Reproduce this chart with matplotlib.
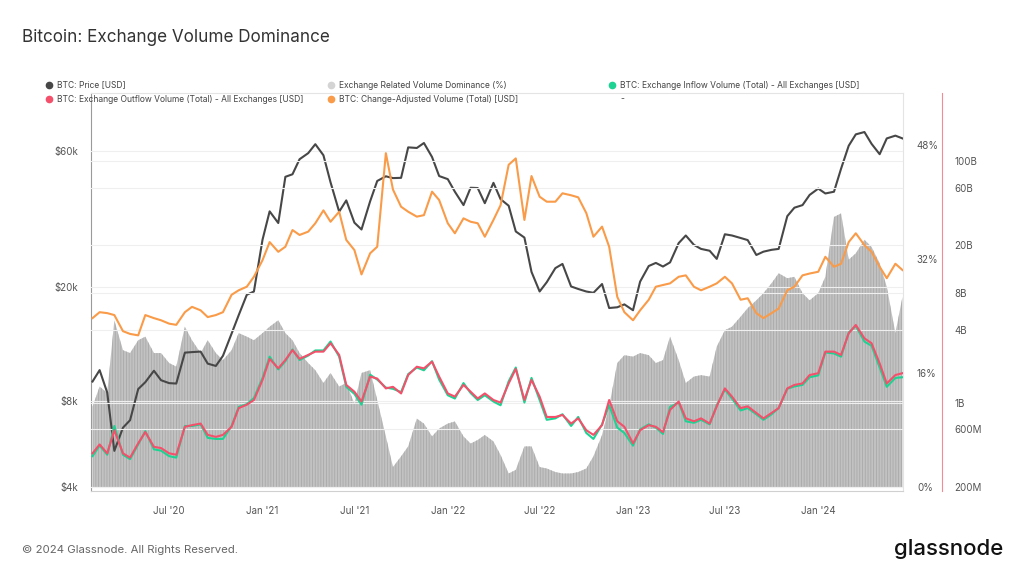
import matplotlib.pyplot as plt
import matplotlib.dates as mdates
from matplotlib.lines import Line2D
from matplotlib.ticker import FixedLocator, FixedFormatter, NullLocator
import pandas as pd

plt.rcParams['font.family'] = ['Inter', 'DejaVu Sans']
plt.rcParams['hatch.linewidth'] = 0.6

# semi-monthly samples (1st and 15th), Feb 2020 - Jun 2024
dates = pd.date_range('2020-02-01', '2024-06-15', freq='SMS')

# BTC price, USD
price = [
    9350, 10250, 8550, 5350, 6450, 6850, 8800, 9300, 10200, 9450, 9230, 9200,
    11800, 11850, 11900, 10800, 10600, 11500, 13750, 15950, 18800, 19300,
    29300, 36800, 33500, 48600, 49600, 56000, 58800, 63200, 57800, 46500, 36700, 40200,
    33600, 31800, 39900, 47000, 48800, 48100, 48200, 61600, 61300, 63800, 57000, 48900,
    47700, 43100, 38700, 44500, 44400, 39300, 46300, 40600, 38500, 31300, 29800, 22600,
    19300, 20800, 23300, 24100, 20100, 19700, 19300, 19100, 20500, 16900, 17000, 17400,
    16600, 20900, 23700, 24300, 23600, 24400, 28500, 30300, 28100, 27200, 26800, 25100,
    30600, 30300, 29700, 29200, 25900, 26600, 27000, 27200, 35400, 37900, 38700, 42000,
    44200, 42500, 43100, 51900, 62400, 68400, 69700, 63400, 58300, 66200, 67700, 66200,
]

# Exchange related volume dominance, %
dominance = [
    11.3, 14.1, 13.2, 23.4, 19.2, 18.8, 20.6, 21.1, 18.8, 18.8, 17.4, 16.9,
    22.5, 20.6, 18.8, 20.6, 18.8, 17.8, 19.2, 21.6, 21.1, 20.6,
    21.6, 22.5, 23.4, 21.6, 20.6, 18.8, 17.4, 16.4, 14.6, 16.0, 14.1, 14.6,
    11.7, 16.0, 16.4, 12.2, 7.1, 2.8, 4.3, 5.7, 9.6, 8.9, 7.1, 8.2,
    8.9, 9.2, 7.1, 6.1, 6.6, 7.3, 6.4, 4.5, 1.9, 2.4, 5.7, 5.7,
    2.8, 2.6, 2.1, 1.9, 1.9, 2.1, 2.6, 4.3, 7.3, 11.3, 17.4, 18.5,
    18.3, 18.8, 18.5, 17.4, 17.8, 21.1, 17.8, 14.6, 15.5, 15.7, 15.5, 19.7,
    22.0, 22.5, 23.9, 25.1, 26.2, 27.2, 28.6, 30.0, 29.3, 29.5, 27.2, 26.2,
    27.2, 29.5, 37.9, 38.4, 31.9, 32.8, 34.7, 33.7, 31.4, 28.1, 21.6, 26.7,
]

# Exchange outflow volume, billion USD
outflow = [
    0.38, 0.45, 0.38, 0.59, 0.38, 0.35, 0.46, 0.57, 0.43, 0.42, 0.38, 0.37,
    0.63, 0.65, 0.67, 0.54, 0.52, 0.54, 0.63, 0.90, 0.96, 1.05,
    1.54, 2.3, 1.92, 2.25, 2.72, 2.3, 2.48, 2.64, 2.64, 3.1, 2.48, 1.4,
    1.23, 1.02, 1.64, 1.58, 1.31, 1.35, 1.19, 1.69, 1.98, 1.92, 2.18, 1.64,
    1.19, 1.12, 1.4, 1.23, 1.08, 1.19, 1.05, 1.0, 1.44, 1.9, 1.05, 1.54,
    1.12, 0.76, 0.76, 0.79, 0.67, 0.74, 0.59, 0.54, 0.65, 1.05, 0.70, 0.63,
    0.46, 0.59, 0.65, 0.63, 0.57, 0.87, 1.02, 0.74, 0.70, 0.74, 0.67, 0.93,
    1.31, 1.12, 0.90, 0.93, 0.82, 0.74, 0.82, 0.90, 1.31, 1.40, 1.44, 1.69,
    1.75, 2.64, 2.64, 2.48, 3.74, 4.39, 3.4, 3.1, 2.11, 1.44, 1.69, 1.75,
]

# Exchange inflow volume, billion USD
inflow = [
    0.36, 0.44, 0.37, 0.64, 0.37, 0.34, 0.45, 0.58, 0.41, 0.40, 0.36, 0.35,
    0.64, 0.64, 0.66, 0.51, 0.50, 0.50, 0.64, 0.92, 0.97, 1.09,
    1.60, 2.4, 1.88, 2.2, 2.75, 2.25, 2.45, 2.7, 2.7, 3.2, 2.4, 1.35,
    1.18, 0.96, 1.70, 1.55, 1.33, 1.30, 1.22, 1.72, 1.95, 1.85, 2.2, 1.55,
    1.15, 1.08, 1.45, 1.20, 1.05, 1.15, 1.02, 0.95, 1.50, 1.95, 1.00, 1.6,
    1.05, 0.72, 0.74, 0.80, 0.64, 0.76, 0.56, 0.50, 0.66, 0.95, 0.62, 0.56,
    0.44, 0.60, 0.66, 0.62, 0.55, 0.92, 1.0, 0.70, 0.68, 0.72, 0.66, 0.95,
    1.28, 1.08, 0.86, 0.90, 0.80, 0.72, 0.80, 0.90, 1.30, 1.36, 1.40, 1.62,
    1.68, 2.6, 2.55, 2.40, 3.8, 4.3, 3.2, 2.95, 1.95, 1.35, 1.60, 1.62,
]

# Change-adjusted volume, billion USD
adjusted = [
    5.0, 5.6, 5.5, 5.3, 3.9, 3.7, 3.6, 5.3, 5.0, 4.8, 4.5, 4.4,
    5.6, 6.2, 5.8, 5.1, 5.3, 5.6, 7.8, 8.5, 9.1, 11,
    15.1, 21.3, 17.7, 19.5, 26.8, 24.4, 26, 30.5, 39, 31.4, 38, 22.2,
    18.3, 11.5, 17.2, 19.5, 116, 58, 41.8, 38, 34.6, 35.6, 55.7, 47.5,
    30.5, 25.2, 33.5, 31.4, 30.5, 23.6, 32.5, 43, 93, 105, 32.5, 75,
    50.6, 46, 46, 54, 52, 50, 37, 23.6, 28.6, 19.5, 7.5, 5.6,
    4.8, 5.8, 7.1, 9.1, 9.4, 9.7, 11, 11.3, 9.1, 8.5, 9.1, 9.7,
    11, 9.7, 7.1, 7.3, 5.5, 5.0, 5.5, 6.0, 8.5, 9.1, 11.3, 11.7,
    12.1, 16.1, 13.3, 14.1, 21.3, 25.2, 20.1, 17.7, 13.3, 10.7, 14.1, 12.5,
]

price_ticks = [4000, 8000, 20000, 60000]
price_labels = ['$4k', '$8k', '$20k', '$60k']
dom_ticks = [0, 16, 32, 48]
dom_labels = ['0%', '16%', '32%', '48%']
vol_ticks = [0.2, 0.6, 1, 4, 8, 20, 60, 100]
vol_labels = ['200M', '600M', '1B', '4B', '8B', '20B', '60B', '100B']

c_price = '#474747'
c_dom = '#c2c2c2'
c_in = '#1dd393'
c_out = '#f4506b'
c_adj = '#f99b48'
c_text = '#555555'

W, H = 1024, 576
fig = plt.figure(figsize=(10.24, 5.76), dpi=100)
L, R, T, B = 91, 903, 93, 491
ax_dom = fig.add_axes([L / W, 1 - B / H, (R - L) / W, (B - T) / H])
ax_price = ax_dom.twinx()
ax_vol = ax_dom.twinx()

# dominance columns
ax_dom.fill_between(dates, dominance, 0, facecolor=c_dom, edgecolor='#a9a9a9',
                    hatch='||||||', linewidth=0)
ax_dom.set_ylim(-0.56, 55.3)
ax_dom.yaxis.tick_right()
ax_dom.yaxis.set_major_locator(FixedLocator(dom_ticks))
ax_dom.yaxis.set_major_formatter(FixedFormatter(dom_labels))
ax_dom.tick_params(axis='y', length=0, pad=10, labelsize=7, labelcolor=c_text)

# price
ax_price.plot(dates, price, color=c_price, lw=1.5, zorder=3)
ax_price.set_yscale('log')
ax_price.set_ylim(3873, 95430)
ax_price.yaxis.tick_left()
ax_price.yaxis.set_major_locator(FixedLocator(price_ticks))
ax_price.yaxis.set_major_formatter(FixedFormatter(price_labels))
ax_price.yaxis.set_minor_locator(NullLocator())
ax_price.tick_params(axis='y', length=0, pad=9, labelsize=7, labelcolor=c_text)
ax_price.grid(axis='y', color='#efefef', lw=0.8)
ax_price.set_axisbelow(True)

# volumes
ax_vol.plot(dates, adjusted, color=c_adj, lw=1.5)
ax_vol.plot(dates, inflow, color=c_in, lw=1.5)
ax_vol.plot(dates, outflow, color=c_out, lw=1.5)
ax_vol.set_yscale('log')
ax_vol.set_ylim(0.1853, 365.3)
ax_vol.yaxis.set_major_locator(FixedLocator(vol_ticks))
ax_vol.yaxis.set_major_formatter(FixedFormatter(vol_labels))
ax_vol.yaxis.set_minor_locator(NullLocator())
ax_vol.tick_params(axis='y', length=0, pad=9, labelsize=7, labelcolor=c_text)
ax_vol.grid(axis='y', color='#efefef', lw=0.8)
ax_vol.set_axisbelow(True)
ax_vol.spines['right'].set_position(('axes', (942 - L) / (R - L)))
ax_vol.spines['right'].set_color('#f38a97')

# x axis
ax_dom.set_xlim(pd.Timestamp('2020-01-29'), pd.Timestamp('2024-06-16'))
ax_dom.xaxis.set_major_locator(mdates.MonthLocator(bymonth=[1, 7]))
ax_dom.xaxis.set_major_formatter(mdates.DateFormatter("%b '%y"))
ax_dom.tick_params(axis='x', length=0, pad=11, labelsize=7, labelcolor=c_text)

for a in (ax_price, ax_vol):
    for s in ('top', 'bottom', 'left'):
        a.spines[s].set_visible(False)
ax_price.spines['right'].set_visible(False)
ax_dom.spines['left'].set_color('#9a9a9a')
ax_dom.spines['bottom'].set_color('#d0d0d0')
ax_dom.spines['right'].set_color('#e4e4e4')
ax_dom.spines['top'].set_color('#e4e4e4')

# legend
legend_items = [
    (49, 85, c_price, 'BTC: Price [USD]'),
    (331, 85, '#d4d4d4', 'Exchange Related Volume Dominance (%)'),
    (612, 85, c_in, 'BTC: Exchange Inflow Volume (Total) - All Exchanges [USD]'),
    (49, 99, c_out, 'BTC: Exchange Outflow Volume (Total) - All Exchanges [USD]'),
    (331, 99, c_adj, 'BTC: Change-Adjusted Volume (Total) [USD]'),
]
for x, y, c, label in legend_items:
    fig.add_artist(Line2D([x / W], [1 - y / H], marker='o', markersize=4.5, color=c,
                          linestyle='none', transform=fig.transFigure))
    fig.text((x + 8) / W, 1 - y / H, label, fontsize=6.1, color='#444444',
             va='center', ha='left')
fig.text(620 / W, 1 - 99 / H, '-', fontsize=6.1, color='#444444', va='center')

fig.text(22 / W, 1 - 37 / H, 'Bitcoin: Exchange Volume Dominance', fontsize=12.3,
         color='#333333', va='center', ha='left')
fig.text(22 / W, 1 - 550 / H, '\u00a9 2024 Glassnode. All Rights Reserved.',
         fontsize=8.2, color='#666666', va='center', ha='left')
fig.text(1003 / W, 1 - 549 / H, 'glassnode', fontsize=16, color='#111111',
         va='center', ha='right', weight='medium')

fig.savefig('out.png', dpi=100)
